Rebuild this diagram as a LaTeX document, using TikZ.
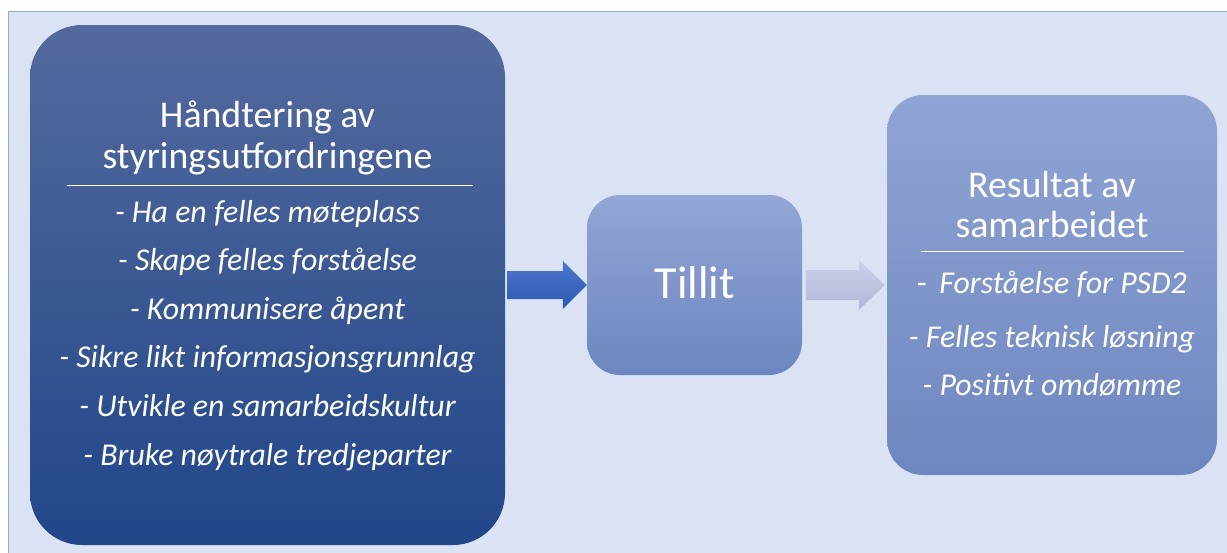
\documentclass[tikz,border=0pt]{standalone}
\usepackage{fontspec}
\setmainfont{Carlito}
\definecolor{bgc}{RGB}{218,227,243}
\definecolor{bordc}{RGB}{142,170,219}
\definecolor{ltop}{RGB}{84,106,158}
\definecolor{lbot}{RGB}{33,70,137}
\definecolor{mtop}{RGB}{147,166,213}
\definecolor{mbot}{RGB}{108,134,192}
\definecolor{rtop}{RGB}{144,164,212}
\definecolor{rbot}{RGB}{110,135,192}
\definecolor{aonetop}{RGB}{78,118,204}
\definecolor{aonebot}{RGB}{42,88,178}
\definecolor{atwotop}{RGB}{204,209,234}
\definecolor{atwobot}{RGB}{176,183,216}
\tikzset{
  panel/.style={draw=none, inner sep=0pt},
  title/.style={text=white, font=\fontsize{37.8}{40}\selectfont, anchor=base, inner sep=0pt},
  item/.style={text=white, font=\fontsize{31.8}{34}\selectfont\itshape, anchor=base, inner sep=0pt},
  rule/.style={draw=white, line width=1pt}
}
\begin{document}
\begin{tikzpicture}[x=1pt,y=-1pt]
\useasboundingbox (0,0) rectangle (1227,552);
\clip (0,0) rectangle (1227,552);
\draw[fill=bgc, draw=bordc, line width=1.5pt] (8.5,11.5) rectangle (1240,570);
% panels
\node[panel, rounded corners=52pt, minimum width=475pt, minimum height=520pt, top color=ltop, bottom color=lbot] (L) at (267.5,285) {};
\node[panel, rounded corners=33pt, minimum width=215pt, minimum height=180pt, top color=mtop, bottom color=mbot] (M) at (694.5,285) {};
\node[panel, rounded corners=36pt, minimum width=330pt, minimum height=380pt, top color=rtop, bottom color=rbot] (R) at (1052,285) {};
% block arrows between panels
\shade[top color=aonetop, bottom color=aonebot]
  ([xshift=2pt,yshift=14pt]L.east) -- ([xshift=-24pt,yshift=14pt]M.west) -- ([xshift=-24pt,yshift=24pt]M.west)
  -- (M.west) -- ([xshift=-24pt,yshift=-24pt]M.west) -- ([xshift=-24pt,yshift=-14pt]M.west)
  -- ([xshift=2pt,yshift=-14pt]L.east) -- cycle;
\shade[top color=atwotop, bottom color=atwobot]
  ([xshift=4pt,yshift=15pt]M.east) -- ([xshift=-28pt,yshift=15pt]R.west) -- ([xshift=-28pt,yshift=25pt]R.west)
  -- ([xshift=-2pt]R.west) -- ([xshift=-28pt,yshift=-25pt]R.west) -- ([xshift=-28pt,yshift=-15pt]R.west)
  -- ([xshift=4pt,yshift=-15pt]M.east) -- cycle;
% left text
\node[title] (lt1) at (267.5,127) {Håndtering av};
\node[title] (lt2) at (267.5,168) {styringsutfordringene};
\coordinate (lr1) at (67,185);
\coordinate (lr2) at (473,185);
\draw[rule] (lr1) -- (lr2);
\node[item] (li1) at (267.5,222) {- Ha en felles møteplass};
\node[item] (li2) at (267.5,270.5) {- Skape felles forståelse};
\node[item] (li3) at (267.5,319) {- Kommunisere åpent};
\node[item] (li4) at (267.5,367.5) {- Sikre likt informasjonsgrunnlag};
\node[item] (li5) at (267.5,416) {- Utvikle en samarbeidskultur};
\node[item] (li6) at (267.5,465) {- Bruke nøytrale tredjeparter};
% middle
\node[text=white, font=\fontsize{46}{50}\selectfont, anchor=base, inner sep=0pt] (mt) at (695,298) {Tillit};
% right text
\node[title] (rt1) at (1052,197) {Resultat av};
\node[title] (rt2) at (1052,237) {samarbeidet};
\coordinate (rr1) at (921,251);
\coordinate (rr2) at (1184,251);
\draw[rule] (rr1) -- (rr2);
\node[item] (ri1) at (1052,293) {{\upshape -}\, Forståelse for PSD2};
\node[item] (ri2) at (1052,347) {- Felles teknisk løsning};
\node[item] (ri3) at (1052,395) {- Positivt omdømme};
\end{tikzpicture}
\end{document}
